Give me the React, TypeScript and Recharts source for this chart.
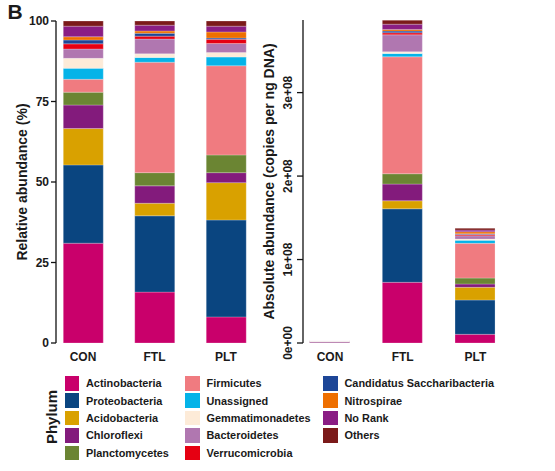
import React from "react";
import { BarChart, Bar, XAxis, YAxis } from "recharts";

const CATS = ["CON", "FTL", "PLT"];

const PHYLA = [
  "Actinobacteria", "Proteobacteria", "Acidobacteria", "Chloroflexi", "Planctomycetes",
  "Firmicutes", "Unassigned", "Gemmatimonadetes", "Bacteroidetes", "Verrucomicrobia",
  "Candidatus Saccharibacteria", "Nitrospirae", "No Rank", "Others",
];

const COLORS = [
  "#c9006b", "#0a4580", "#d9a100", "#831b7c", "#6b8533",
  "#f07b80", "#05b3e8", "#fdebd8", "#b077b0", "#e60012",
  "#1d4697", "#ee6f00", "#8a1d84", "#7b1a1a",
];

// relative abundance (%), same order as PHYLA
const REL_CON = [31.0, 24.3, 11.3, 7.3, 4.0, 4.0, 3.4, 3.1, 2.9, 1.6, 1.2, 1.0, 3.3, 1.6];
const REL_FTL = [15.8, 23.7, 3.9, 5.4, 4.1, 34.3, 1.5, 1.1, 4.6, 0.9, 0.9, 0.7, 1.8, 1.3];
const REL_PLT = [8.1, 30.1, 11.6, 3.1, 5.5, 27.7, 2.7, 1.4, 2.8, 1.3, 0.4, 1.9, 1.8, 1.6];

// absolute abundance (millions of copies per ng DNA)
const ABS_CON = [0.9, 0.7, 0.3, 0.2, 0.11, 0.11, 0.1, 0.09, 0.08, 0.05, 0.03, 0.03, 0.09, 0.05];
const ABS_FTL = [72.7, 88.1, 9.6, 20.0, 12.4, 140.1, 4.0, 2.0, 20.3, 2.4, 2.1, 2.0, 6.3, 4.8];
const ABS_PLT = [10.4, 41.1, 15.2, 4.0, 7.1, 41.6, 3.6, 1.5, 4.0, 1.6, 0.8, 2.4, 2.0, 2.1];

const REL_TICKS = [0, 25, 50, 75, 100];
const ABS_TICKS = [0, 1e8, 2e8, 3e8];
const ABS_LABELS = ["0e+00", "1e+08", "2e+08", "3e+08"];

const FONT = "'Liberation Sans', Arial, sans-serif";
const INK = "#1a1a1a";

function buildRows(sets: number[][], mult: number) {
  return CATS.map((c, i) => {
    const row: Record<string, number | string> = { name: c, x: i + 1 };
    PHYLA.forEach((p, j) => { row[p] = sets[i][j] * mult; });
    return row;
  });
}

const relData = buildRows([REL_CON, REL_FTL, REL_PLT], 1);
const absData = buildRows([ABS_CON, ABS_FTL, ABS_PLT], 1e6);

const tickStyle = { fontSize: 12, fontWeight: 700, fill: INK, fontFamily: FONT };

// rotated tick labels on the absolute axis, sitting left of the tick marks
function AbsTick(props: any) {
  const { x, y, payload } = props;
  const i = ABS_TICKS.indexOf(payload.value);
  const bx = x - 5;
  return (
    <text
      x={bx} y={y} transform={`rotate(-90, ${bx}, ${y})`}
      textAnchor="middle" fontSize={12} fontWeight={700} fill={INK} fontFamily={FONT}
    >
      {ABS_LABELS[i]}
    </text>
  );
}

function axisTitle(text: string, cx: number) {
  return ({ viewBox }: any) => {
    const y = viewBox.y + viewBox.height / 2;
    return (
      <text
        x={cx} y={y} transform={`rotate(-90, ${cx}, ${y})`}
        textAnchor="middle" dominantBaseline="central"
        fontSize={14} fontWeight={700} fill={INK} fontFamily={FONT}
      >
        {text}
      </text>
    );
  };
}

function bars() {
  return PHYLA.map((p, j) => (
    <Bar
      key={p} dataKey={p} stackId="s" fill={COLORS[j]} barSize={40}
      stroke="#ffffff" strokeWidth={0.4} strokeOpacity={0.6}
      isAnimationActive={false}
    />
  ));
}

const LEGEND_COLS = [[0, 1, 2, 3, 4], [5, 6, 7, 8, 9], [10, 11, 12, 13]];
const COL_X = [64.5, 185, 323];

export default function App() {
  return (
    <div style={{
      position: "absolute", left: 0, top: 0, width: 555, height: 471,
      background: "#fff", fontFamily: FONT, overflow: "hidden",
    }}>
      <div style={{
        position: "absolute", left: 7.5, top: 0, fontSize: 21, fontWeight: 700,
        color: INK, lineHeight: "24px",
      }}>B</div>

      {/* relative abundance */}
      <div style={{ position: "absolute", left: 0, top: 0 }}>
        <BarChart width={262} height={375} data={relData}
          margin={{ top: 21, right: 6, bottom: 0, left: 0 }}>
          <XAxis
            dataKey="x" type="number" domain={[0.622, 3.42]} ticks={[1, 2, 3]}
            tickFormatter={(v) => CATS[v - 1]} axisLine={false} tickLine={false}
            tickSize={0} tickMargin={9} height={32} tick={tickStyle} interval={0}
          />
          <YAxis
            domain={[0, 100]} ticks={REL_TICKS} width={56} tickSize={5} tickMargin={2}
            axisLine={{ stroke: "#111", strokeWidth: 1.3 }}
            tickLine={{ stroke: "#111", strokeWidth: 1.3 }} tick={tickStyle}
            label={{ content: axisTitle("Relative abundance (%)", 22) } as any}
          />
          {bars()}
        </BarChart>
      </div>

      {/* absolute abundance */}
      <div style={{ position: "absolute", left: 262, top: 0 }}>
        <BarChart width={293} height={375} data={absData}
          margin={{ top: 20, right: 36, bottom: 0, left: 0 }}>
          <XAxis
            dataKey="x" type="number" domain={[0.629, 3.6]} ticks={[1, 2, 3]}
            tickFormatter={(v) => CATS[v - 1]} axisLine={false} tickLine={false}
            tickSize={0} tickMargin={9} height={32} tick={tickStyle} interval={0}
          />
          <YAxis
            domain={[0, 3.87e8]} ticks={ABS_TICKS} width={41} tickSize={6} tickMargin={0}
            allowDataOverflow
            axisLine={{ stroke: "#111", strokeWidth: 1.3 }}
            tickLine={{ stroke: "#111", strokeWidth: 1.3 }} tick={<AbsTick />}
            label={{ content: axisTitle("Absolute abundance (copies per ng DNA)", 7) } as any}
          />
          {bars()}
        </BarChart>
      </div>

      {/* legend */}
      <div style={{
        position: "absolute", left: 52, top: 417, transform: "translate(-50%, -50%) rotate(-90deg)",
        fontSize: 15, fontWeight: 700, color: INK, whiteSpace: "nowrap", lineHeight: "16px",
      }}>Phylum</div>
      {LEGEND_COLS.map((col, ci) => col.map((j, ri) => (
        <div key={PHYLA[j]} style={{
          position: "absolute", left: COL_X[ci], top: 376 + ri * 17.4,
          display: "flex", alignItems: "center", height: 14.5, whiteSpace: "nowrap",
        }}>
          <span style={{ width: 14.5, height: 14.5, background: COLORS[j], display: "inline-block" }} />
          <span style={{
            marginLeft: 7, fontSize: 10.9, fontWeight: 700, color: INK, lineHeight: "14px",
          }}>{PHYLA[j]}</span>
        </div>
      )))}
    </div>
  );
}
